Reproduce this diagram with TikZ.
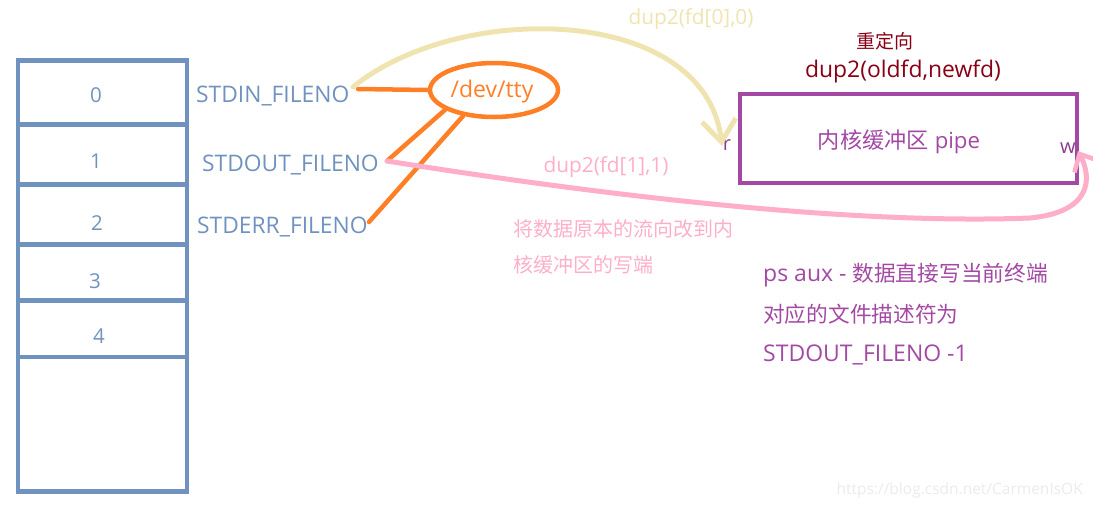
\documentclass[tikz,border=0pt]{standalone}
\usepackage{fontspec}
\setmainfont{Open Sans}
\newfontfamily\cjk{Noto Sans CJK SC}
\usetikzlibrary{arrows.meta,shapes.geometric}
\definecolor{fdblue}{RGB}{112,146,190}
\definecolor{ttyorange}{RGB}{255,127,39}
\definecolor{tan}{RGB}{239,228,176}
\definecolor{pinkc}{RGB}{255,174,201}
\definecolor{purp}{RGB}{163,73,164}
\definecolor{darkred}{RGB}{136,0,21}
\tikzset{
  cell/.style={draw=fdblue, line width=4.5pt, minimum width=169pt, anchor=north, inner sep=0pt},
  num/.style={text=fdblue, font=\fontsize{20.5}{24}\selectfont, anchor=base, inner sep=0pt},
  fdlabel/.style={text=fdblue, font=\fontsize{22.8}{27}\selectfont, anchor=base west, inner sep=0pt},
  ttyline/.style={draw=ttyorange, line width=4.5pt, line cap=round},
  txt/.style={inner sep=0pt, anchor=base},
}
\begin{document}
\begin{tikzpicture}[x=1pt,y=-1pt]
\useasboundingbox (0,0) rectangle (1093,507);
% file descriptor table
\node[cell, minimum height=64pt] (c0) at (102.5,58) {};
\node[cell, minimum height=60pt] (c1) at (102.5,122) {};
\node[cell, minimum height=60pt] (c2) at (102.5,182) {};
\node[cell, minimum height=56pt] (c3) at (102.5,242) {};
\node[cell, minimum height=56.7pt] (c4) at (102.5,298) {};
\node[cell, minimum height=134.3pt] (c5) at (102.5,354.7) {};
\node[num] (n0) at (96,102) {0};
\node[num] (n1) at (96,168) {1};
\node[num] (n2) at (97,230) {2};
\node[num] (n3) at (95,288) {3};
\node[num] (n4) at (99,343) {4};
% labels
\node[fdlabel] (stdin) at (196,102) {STDIN\_FILENO};
\node[fdlabel] (stdout) at (202,171) {STDOUT\_FILENO};
\node[fdlabel] (stderr) at (197,233) {STDERR\_FILENO};
% /dev/tty
\node[ellipse, draw=ttyorange, line width=4.5pt, minimum width=128pt, minimum height=54pt, inner sep=0pt] (tty) at (494,90) {};
\node[txt, text=ttyorange, font=\fontsize{23}{27}\selectfont] (ttyt) at (492,97) {/dev/tty};
\coordinate (inA) at (358,89);
\coordinate (outA) at (387,161);
\coordinate (errA) at (369,222);
\draw[ttyline] (inA) -- (tty.west);
\draw[ttyline] (outA) -- (tty.-158);
\draw[ttyline] (errA) -- (tty.-140);
% pipe box
\node[draw=purp, line width=4.5pt, minimum width=337pt, minimum height=89pt, inner sep=0pt] (pipe) at (908.5,138.5) {};
\node[txt, text=purp, font=\fontsize{22.2}{26}\selectfont] (pipet) at (899,148) {{\cjk 内核缓冲区} pipe};
\node[txt, text=purp!85!black, font=\fontsize{20}{23}\selectfont] (rlab) at (727,150) {r};
\node[txt, text=purp!85!black, font=\fontsize{20}{23}\selectfont] (wlab) at (1068,153) {w};
\node[txt, text=darkred, font=\fontsize{19}{23}\cjk] (redir) at (885,48) {重定向};
\node[txt, text=darkred, font=\fontsize{22.9}{27}\selectfont] (dupsig) at (903,77) {dup2(oldfd,newfd)};
% dup2 arrows
\coordinate (rin) at (722,146);
\coordinate (win) at (1078,151);
\coordinate (stdinA) at (353,87);
\draw[tan, line width=5pt, line cap=round, -{Straight Barb[length=22pt,width=34pt,line width=5pt]}]
  (stdinA) .. controls (460,0) and (705,5) .. (rin);
\node[txt, text=tan, font=\fontsize{20.8}{24}\selectfont] (dup0) at (691,24) {dup2(fd[0],0)};
\draw[pinkc, line width=5pt, line cap=round, -{Straight Barb[length=14pt,width=26pt,line width=4.5pt]}]
  (outA) .. controls (600,195) and (850,225) .. (1030,218)
  .. controls (1092,212) and (1092,178) .. (win);
\node[txt, text=pinkc, font=\fontsize{20.8}{24}\selectfont] (dup1) at (606,172) {dup2(fd[1],1)};
% notes
\node[inner sep=0pt, anchor=base west, text=pinkc, font=\fontsize{20}{24}\cjk] (note1a) at (513,236) {将数据原本的流向改到内};
\node[inner sep=0pt, anchor=base west, text=pinkc, font=\fontsize{20}{24}\cjk] (note1b) at (513,272) {核缓冲区的写端};
\node[inner sep=0pt, anchor=base west, text=purp, font=\fontsize{23}{27}\selectfont] (note2a) at (763,281) {ps aux - {\fontsize{21.7}{25}\cjk 数据直接写当前终端}};
\node[inner sep=0pt, anchor=base west, text=purp, font=\fontsize{21.7}{25}\cjk] (note2b) at (763,322) {对应的文件描述符为};
\node[inner sep=0pt, anchor=base west, text=purp, font=\fontsize{23}{27}\selectfont] (note2c) at (763,361) {STDOUT\_FILENO -1};
% watermark
\node[inner sep=0pt, anchor=base east, text=black!8, font=\fontsize{15.5}{18}\selectfont] (wm) at (1083,494) {https://blog.csdn.net/CarmenIsOK};
\end{tikzpicture}
\end{document}
